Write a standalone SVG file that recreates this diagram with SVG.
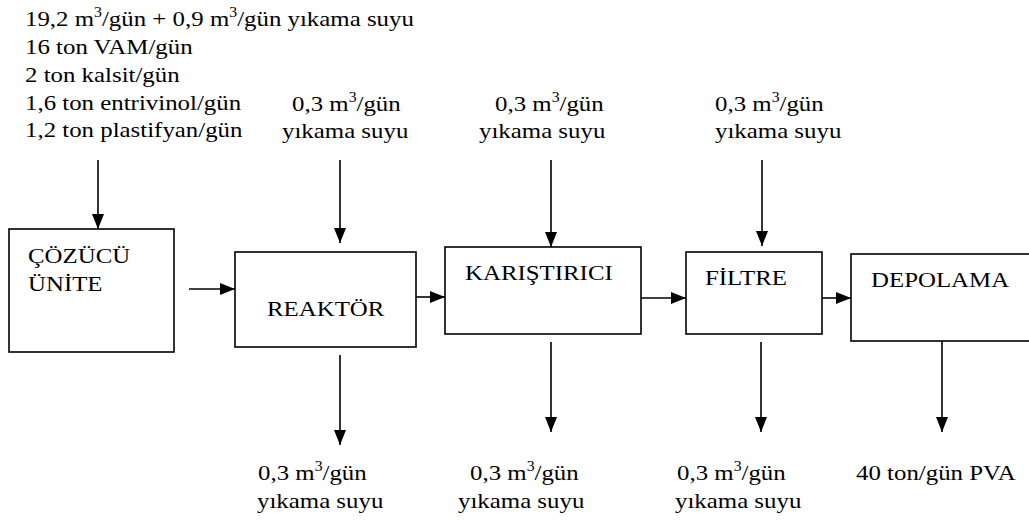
<svg xmlns="http://www.w3.org/2000/svg" width="1029" height="520" viewBox="0 0 1029 520" font-family="'Liberation Serif', 'Times New Roman', Times, 'DejaVu Serif', serif">
<style>
text{font-family:'Liberation Serif','Times New Roman',Times,'DejaVu Serif',serif;font-size:22px;fill:#000}
.sup{font-size:14px}
.box{fill:#fff;stroke:#000;stroke-width:1.6}
.con line{stroke:#000;stroke-width:1.6}
</style>
<defs>
<marker id="ah" markerUnits="userSpaceOnUse" markerWidth="15" markerHeight="12" refX="15" refY="6" orient="auto"><path d="M0,0 L15,6 L0,12 z" fill="#000"/></marker>
</defs>
<rect width="1029" height="520" fill="#fff"/>
<g id="inputs">
<text transform="translate(25 26) scale(1.13 1)">19,2 m<tspan class="sup" dy="-9">3</tspan><tspan dy="9">/gün + 0,9 m</tspan><tspan class="sup" dy="-9">3</tspan><tspan dy="9">/gün yıkama suyu</tspan></text>
<text transform="translate(25 54) scale(1.13 1)">16 ton VAM/gün</text>
<text transform="translate(25 82) scale(1.13 1)">2 ton kalsit/gün</text>
<text transform="translate(25 110) scale(1.13 1)">1,6 ton entrivinol/gün</text>
<text transform="translate(25 137) scale(1.13 1)">1,2 ton plastifyan/gün</text>
</g>
<g id="wash-in-1">
<text transform="translate(292 111) scale(1.13 1)">0,3 m<tspan class="sup" dy="-9">3</tspan><tspan dy="9">/gün</tspan></text>
<text transform="translate(282 138) scale(1.13 1)">yıkama suyu</text>
</g>
<g id="wash-in-2">
<text transform="translate(495 111) scale(1.13 1)">0,3 m<tspan class="sup" dy="-9">3</tspan><tspan dy="9">/gün</tspan></text>
<text transform="translate(479 138) scale(1.13 1)">yıkama suyu</text>
</g>
<g id="wash-in-3">
<text transform="translate(715 111) scale(1.13 1)">0,3 m<tspan class="sup" dy="-9">3</tspan><tspan dy="9">/gün</tspan></text>
<text transform="translate(715 138) scale(1.13 1)">yıkama suyu</text>
</g>
<g id="cozucu">
<rect class="box" x="9" y="229" width="165" height="123"/>
<text transform="translate(28 263) scale(1.13 1)">ÇÖZÜCÜ</text>
<text transform="translate(28 291) scale(1.13 1)">ÜNİTE</text>
</g>
<g id="reaktor">
<rect class="box" x="235" y="252" width="181" height="95"/>
<text transform="translate(267 316) scale(1.13 1)">REAKTÖR</text>
</g>
<g id="karistirici">
<rect class="box" x="445" y="247" width="196" height="87"/>
<text transform="translate(465 280) scale(1.13 1)">KARIŞTIRICI</text>
</g>
<g id="filtre">
<rect class="box" x="686" y="252" width="136" height="82"/>
<text transform="translate(705 285) scale(1.13 1)">FİLTRE</text>
</g>
<g id="depolama">
<rect class="box" x="851" y="254" width="200" height="87"/>
<text transform="translate(871 287) scale(1.13 1)">DEPOLAMA</text>
</g>
<g id="wash-out-1">
<text transform="translate(258 480) scale(1.13 1)">0,3 m<tspan class="sup" dy="-9">3</tspan><tspan dy="9">/gün</tspan></text>
<text transform="translate(257 508) scale(1.13 1)">yıkama suyu</text>
</g>
<g id="wash-out-2">
<text transform="translate(470 480) scale(1.13 1)">0,3 m<tspan class="sup" dy="-9">3</tspan><tspan dy="9">/gün</tspan></text>
<text transform="translate(458 508) scale(1.13 1)">yıkama suyu</text>
</g>
<g id="wash-out-3">
<text transform="translate(677 480) scale(1.13 1)">0,3 m<tspan class="sup" dy="-9">3</tspan><tspan dy="9">/gün</tspan></text>
<text transform="translate(675 508) scale(1.13 1)">yıkama suyu</text>
</g>
<g id="product">
<text transform="translate(856 480) scale(1.13 1)">40 ton/gün PVA</text>
</g>
<g class="con" id="connectors">
<line x1="98" y1="160" x2="98" y2="229" marker-end="url(#ah)"/>
<line x1="340" y1="160" x2="340" y2="243" marker-end="url(#ah)"/>
<line x1="551" y1="160" x2="551" y2="247" marker-end="url(#ah)"/>
<line x1="762" y1="160" x2="762" y2="246" marker-end="url(#ah)"/>
<line x1="189" y1="289" x2="235" y2="289" marker-end="url(#ah)"/>
<line x1="416" y1="297" x2="445" y2="297" marker-end="url(#ah)"/>
<line x1="641" y1="298" x2="686" y2="298" marker-end="url(#ah)"/>
<line x1="822" y1="298" x2="851" y2="298" marker-end="url(#ah)"/>
<line x1="340" y1="355" x2="340" y2="445" marker-end="url(#ah)"/>
<line x1="551" y1="342" x2="551" y2="432" marker-end="url(#ah)"/>
<line x1="761" y1="342" x2="761" y2="432" marker-end="url(#ah)"/>
<line x1="942" y1="341" x2="942" y2="432" marker-end="url(#ah)"/>
</g>
</svg>
